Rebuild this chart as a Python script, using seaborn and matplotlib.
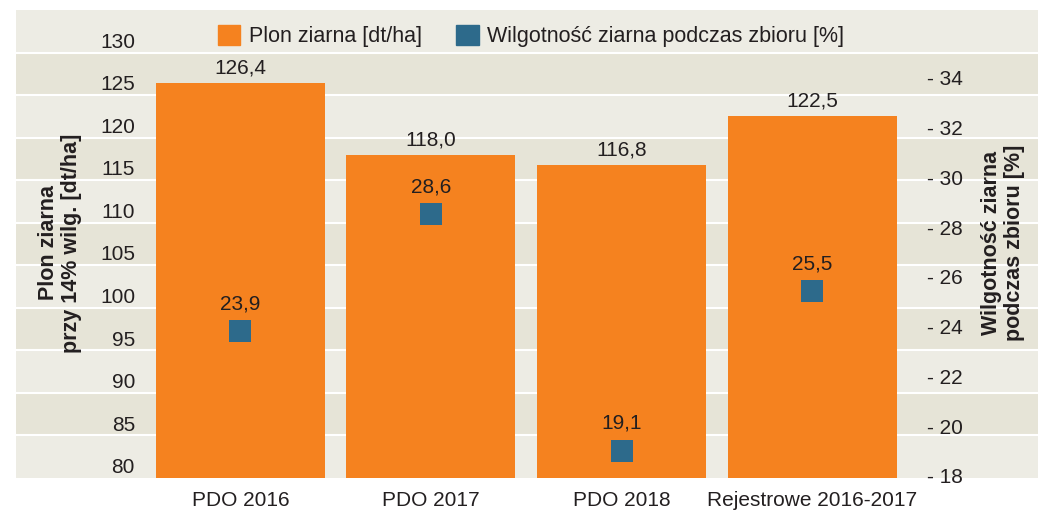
import matplotlib
matplotlib.use("Agg")
import matplotlib.pyplot as plt
import seaborn as sns
import pandas as pd
from matplotlib.patches import Patch

# data
categories = ["PDO 2016", "PDO 2017", "PDO 2018", "Rejestrowe 2016-2017"]
plon = [126.4, 118.0, 116.8, 122.5]
wilgotnosc = [23.9, 28.6, 19.1, 25.5]
left_ticks = [80, 85, 90, 95, 100, 105, 110, 115, 120, 125, 130]
right_ticks = [18, 20, 22, 24, 26, 28, 30, 32, 34]

ORANGE = "#F5821F"
BLUE = "#2D6A8B"
BAND_LIGHT = "#EDECE4"
BAND_DARK = "#E6E4D7"
TXT = "#231F20"
FS = 15

sns.set_theme(style="white")
plt.rcParams["font.family"] = ["Liberation Sans", "DejaVu Sans"]

df = pd.DataFrame({"kat": categories, "plon": plon, "wilg": wilgotnosc})

W, H = 1038, 512
fig = plt.figure(figsize=(W / 100, H / 100), dpi=100)
ax = fig.add_axes([16 / W, (H - 478) / H, (W - 16) / W, (478 - 10) / H])

# background bands
lo, hi = 80, 135
for i, y0 in enumerate(range(lo, hi, 5)):
    ax.axhspan(y0, y0 + 5, color=BAND_DARK if i % 2 else BAND_LIGHT, lw=0, zorder=0)
    if y0 > lo:
        ax.axhline(y0, color="white", lw=1.5, zorder=0.5)

sns.barplot(data=df, x="kat", y="plon", color=ORANGE, width=0.887,
            saturation=1, linewidth=0, ax=ax, zorder=2)
ax.set_ylim(lo, hi)
ax.set_xlim(-1.178, 4.186)
ax.set_xlabel("")
ax.set_ylabel("")
ax.set_yticks([])
ax.tick_params(axis="x", length=0, pad=9, labelsize=FS, labelcolor=TXT)
for s in ax.spines.values():
    s.set_visible(False)

# bar value labels
for i, v in enumerate(plon):
    ax.annotate(f"{v:.1f}".replace(".", ","), (i, v), xytext=(0, 4),
                textcoords="offset points", ha="center", va="bottom",
                fontsize=FS, color=TXT, zorder=5)

# left tick labels (sit just above the band lines)
ytr = ax.get_yaxis_transform()
for t in left_ticks:
    ax.annotate(str(t), (119 / 1022, t), xycoords=ytr, xytext=(0, 3.5),
                textcoords="offset points", ha="right", va="baseline",
                fontsize=FS, color=TXT)

# moisture squares on secondary axis
ax2 = ax.twinx()
sns.scatterplot(data=df, x="kat", y="wilg", marker="s", s=245, color=BLUE,
                linewidth=0, ax=ax2, zorder=3, legend=False)
ax2.set_ylim(18, 36.8)
ax2.set_xlim(-1.178, 4.186)
ax2.set_ylabel("")
ax2.set_yticks([])
for s in ax2.spines.values():
    s.set_visible(False)

for i, v in enumerate(wilgotnosc):
    ax2.annotate(f"{v:.1f}".replace(".", ","), (i, v), xytext=(0, 13),
                 textcoords="offset points", ha="center", va="bottom",
                 fontsize=FS, color=TXT)

ytr2 = ax2.get_yaxis_transform()
for t in right_ticks:
    ax2.text(911 / 1022, t, f"- {t}", transform=ytr2, ha="left", va="center",
             fontsize=FS, color=TXT)

# legend
handles = [Patch(color=ORANGE, label="Plon ziarna [dt/ha]"),
           Patch(color=BLUE, label="Wilgotność ziarna podczas zbioru [%]")]
leg = ax2.legend(handles=handles, loc="upper center", bbox_to_anchor=(515 / 1022, 1.01),
                 ncol=2, frameon=False, fontsize=15.5, handlelength=1.05,
                 handleheight=1.05, handletextpad=0.4, columnspacing=1.6)
for t in leg.get_texts():
    t.set_color(TXT)

# axis titles
fig.text(60 / W, 1 - 243 / H, "Plon ziarna\nprzy 14% wilg. [dt/ha]", rotation=90,
         ha="center", va="center", multialignment="center", fontsize=15.5,
         fontweight="bold", color=TXT, linespacing=1.12)
fig.text(1003 / W, 1 - 243 / H, "Wilgotność ziarna\npodczas zbioru [%]", rotation=90,
         ha="center", va="center", multialignment="center", fontsize=15.5,
         fontweight="bold", color=TXT, linespacing=1.12)

fig.savefig("out.png", dpi=100, facecolor="white")
